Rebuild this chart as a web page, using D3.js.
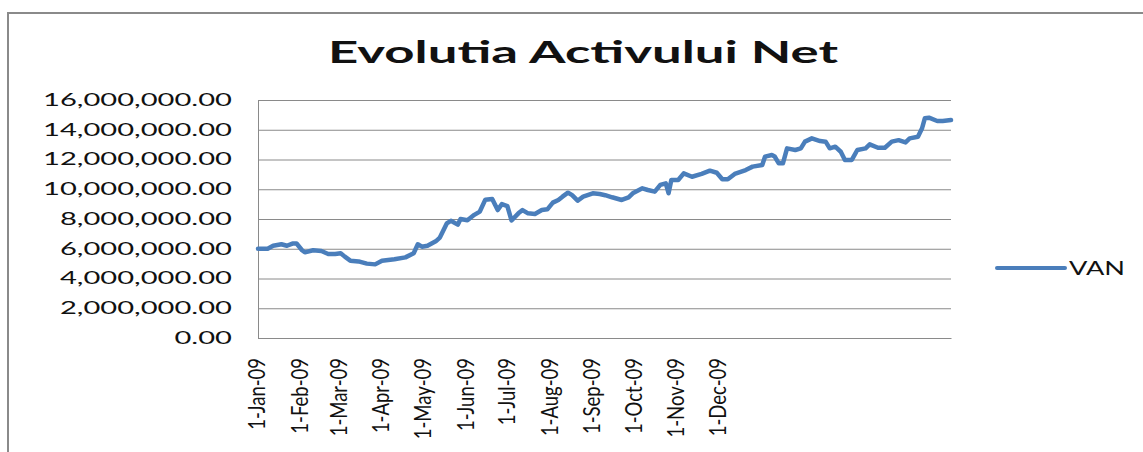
<!DOCTYPE html>
<html>
<head>
<meta charset="utf-8">
<script src="https://cdn.jsdelivr.net/npm/d3@7/dist/d3.min.js"></script>
<style>
  body { margin: 0; background: #fff; }
  text { font-family: Lato, "Open Sans", sans-serif; fill: #111; }
</style>
</head>
<body>
<svg id="chart" width="1143" height="452"></svg>
<script>
// days counted from 1-Jan-09, values in lei
const days = [0,7,11,17,21,25,28,32,34,40,46,51,56,60,63,67,73,79,85,90,99,107,113,116,119,123,
  129,132,137,140,145,147,152,157,161,165,170,174,177,181,184,189,192,196,201,206,210,214,218,
  221,225,228,232,236,243,248,252,257,264,269,272,279,283,288,292,296,298,300,305,309,315,322,
  328,333,337,341,346,354,359,366,368,373,375,378,381,384,390,394,397,402,408,412,415,419,423,
  426,431,435,441,444,450,455,460,465,470,473,479,482,484,487,493,497,503];
const van = [6.0,6.0,6.2,6.3,6.2,6.35,6.35,5.9,5.76,5.9,5.85,5.65,5.65,5.7,5.47,5.2,5.15,5.0,4.95,
  5.2,5.29,5.42,5.7,6.3,6.14,6.2,6.5,6.75,7.7,7.88,7.62,8.0,7.92,8.28,8.5,9.3,9.35,8.6,9.0,8.87,
  7.9,8.38,8.6,8.38,8.34,8.6,8.65,9.1,9.28,9.5,9.77,9.6,9.23,9.5,9.73,9.68,9.6,9.46,9.28,9.46,
  9.73,10.06,9.95,9.84,10.29,10.4,9.73,10.62,10.62,11.07,10.84,11.03,11.25,11.11,10.67,10.67,
  11.03,11.29,11.52,11.63,12.19,12.3,12.2,11.74,11.74,12.75,12.64,12.75,13.2,13.42,13.24,13.2,
  12.75,12.86,12.52,11.97,11.97,12.64,12.75,13.02,12.79,12.79,13.2,13.3,13.15,13.42,13.53,14.1,
  14.77,14.81,14.59,14.59,14.65].map(v => v * 1e6);

const tickDays = [0,31,59,90,120,151,181,212,243,273,304,334];
const tickLabels = ["1-Jan-09","1-Feb-09","1-Mar-09","1-Apr-09","1-May-09","1-Jun-09",
  "1-Jul-09","1-Aug-09","1-Sep-09","1-Oct-09","1-Nov-09","1-Dec-09"];
const yTicks = [0,2e6,4e6,6e6,8e6,10e6,12e6,14e6,16e6];

const titleText = "Evolutia Activului Net";
const seriesName = "VAN";

const pLeft = 258, pRight = 951, pTop = 100, pBottom = 338;
const blue = "#4a7ebb", gray = "#8a8a8a";

const svg = d3.select("#chart");

// outer chart border (only top and left show)
svg.append("path")
   .attr("d", "M8,452 L8,13 L1143,13")
   .attr("fill", "none")
   .attr("stroke", gray)
   .attr("stroke-width", 2);

const x = d3.scaleLinear().domain([0, 503]).range([pLeft, pRight]);
const y = d3.scaleLinear().domain([0, 16e6]).range([pBottom, pTop]);

// y axis + gridlines
const yAxis = d3.axisLeft(y)
   .tickValues(yTicks)
   .tickSize(-(pRight - pLeft))
   .tickSizeOuter(0)
   .tickPadding(26)
   .tickFormat(d3.format(",.2f"));

const gy = svg.append("g")
   .attr("transform", "translate(" + pLeft + ",0)")
   .call(yAxis);
gy.selectAll("line").attr("stroke", gray);
gy.select(".domain").attr("stroke", gray);
const yText = gy.selectAll("text")
   .style("font-size", "17px")
   .attr("fill", "#111");
// widen the labels, the widest one spans 189px in the picture
let widest = 0;
yText.each(function() { widest = Math.max(widest, this.getComputedTextLength()); });
const yStretch = 189 / widest;
yText.each(function() {
  d3.select(this)
    .attr("textLength", this.getComputedTextLength() * yStretch)
    .attr("lengthAdjust", "spacingAndGlyphs");
});

// x axis
const xAxis = d3.axisBottom(x)
   .tickValues(tickDays)
   .tickSize(0)
   .tickSizeOuter(0)
   .tickFormat((d, i) => tickLabels[i]);

const gx = svg.append("g")
   .attr("transform", "translate(0," + pBottom + ")")
   .call(xAxis);
gx.select(".domain").attr("stroke", gray);
gx.selectAll("text")
   .style("font-size", "18.5px")
   .attr("fill", "#111")
   .attr("text-anchor", "end")
   .attr("x", -20)
   .attr("y", 0)
   .attr("dy", "0.36em")
   .attr("transform", "translate(-1,0) scale(1.2,1) rotate(-90)");

// the series
const line = d3.line()
   .x((d, i) => x(days[i]))
   .y(d => y(d));

svg.append("path")
   .datum(van)
   .attr("d", line)
   .attr("fill", "none")
   .attr("stroke", blue)
   .attr("stroke-width", 4.5)
   .attr("stroke-linejoin", "round")
   .attr("stroke-linecap", "round");

// title
svg.append("text")
   .attr("x", 583)
   .attr("y", 63)
   .attr("text-anchor", "middle")
   .style("font-size", "31px")
   .style("font-weight", "bold")
   .attr("textLength", 510)
   .attr("lengthAdjust", "spacingAndGlyphs")
   .text(titleText);

// legend
const lg = svg.append("g").attr("transform", "translate(997,268)");
lg.append("line")
   .attr("x1", 0).attr("x2", 68)
   .attr("stroke", blue)
   .attr("stroke-width", 4)
   .attr("stroke-linecap", "round");
lg.append("text")
   .attr("x", 72)
   .attr("dy", "0.36em")
   .style("font-size", "19px")
   .attr("textLength", 56)
   .attr("lengthAdjust", "spacingAndGlyphs")
   .text(seriesName);
</script>
</body>
</html>
